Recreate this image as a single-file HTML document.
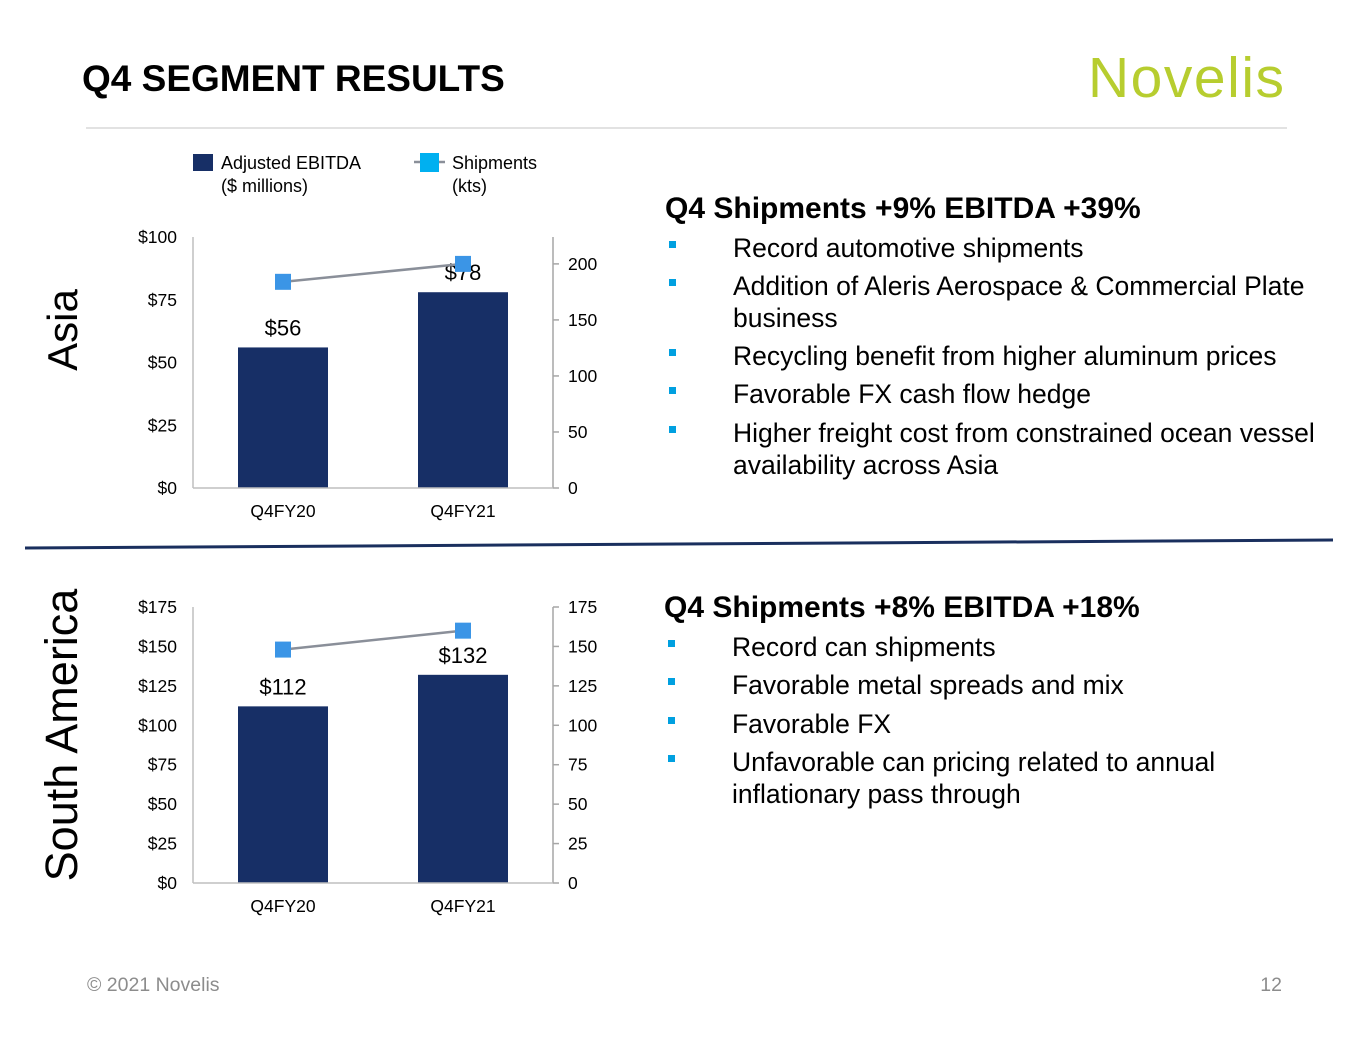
<!DOCTYPE html>
<html><head><meta charset="utf-8"><style>
body{margin:0;background:#fff;}
svg text{font-family:"Liberation Sans",Arial,sans-serif;}
</style></head><body>
<svg id="s" width="1365" height="1055" viewBox="0 0 1365 1055" xmlns="http://www.w3.org/2000/svg">
<text x="82" y="91" font-size="37" font-weight="bold" fill="#000">Q4 SEGMENT RESULTS</text>
<text x="1284" y="97" font-size="57" fill="#b7cd2f" text-anchor="end" textLength="196">Novelis</text>
<line x1="86" y1="128" x2="1287" y2="128" stroke="#d9d9d9" stroke-width="1.5"/>
<line x1="25" y1="548" x2="1333" y2="540" stroke="#1a2f5e" stroke-width="3"/>
<text transform="translate(77,330) rotate(-90)" font-size="42" text-anchor="middle">Asia</text>
<text transform="translate(77,735) rotate(-90)" font-size="45" text-anchor="middle">South America</text>
<g>
<rect x="193" y="154" width="20" height="17" fill="#172f66"/>
<text x="221" y="169" font-size="18">Adjusted EBITDA</text>
<text x="221" y="192" font-size="18">($ millions)</text>
<line x1="414" y1="162" x2="445" y2="162" stroke="#8a8f99" stroke-width="2.5"/>
<rect x="420" y="153" width="19" height="19" fill="#00b0f0"/>
<text x="452" y="169" font-size="18">Shipments</text>
<text x="452" y="192" font-size="18">(kts)</text>
</g>
<g id="c1"></g>
<g id="c2"></g>
<g font-size="26.5">
<text x="665" y="218" font-size="30" font-weight="bold">Q4 Shipments +9% EBITDA +39%</text>
<rect x="669" y="241" width="7" height="7" fill="#00a0e0"/><text x="733" y="257">Record automotive shipments</text>
<rect x="669" y="279" width="7" height="7" fill="#00a0e0"/><text x="733" y="295">Addition of Aleris Aerospace &amp; Commercial Plate</text>
<text x="733" y="327">business</text>
<rect x="669" y="349" width="7" height="7" fill="#00a0e0"/><text x="733" y="365">Recycling benefit from higher aluminum prices</text>
<rect x="669" y="387" width="7" height="7" fill="#00a0e0"/><text x="733" y="403">Favorable FX cash flow hedge</text>
<rect x="669" y="426" width="7" height="7" fill="#00a0e0"/><text x="733" y="442">Higher freight cost from constrained ocean vessel</text>
<text x="733" y="474">availability across Asia</text>
</g>
<g font-size="26.5">
<text x="664" y="617" font-size="30" font-weight="bold">Q4 Shipments +8% EBITDA +18%</text>
<rect x="668" y="640" width="7" height="7" fill="#00a0e0"/><text x="732" y="656">Record can shipments</text>
<rect x="668" y="678" width="7" height="7" fill="#00a0e0"/><text x="732" y="694">Favorable metal spreads and mix</text>
<rect x="668" y="717" width="7" height="7" fill="#00a0e0"/><text x="732" y="733">Favorable FX</text>
<rect x="668" y="755" width="7" height="7" fill="#00a0e0"/><text x="732" y="771">Unfavorable can pricing related to annual</text>
<text x="732" y="803">inflationary pass through</text>
</g>
<text x="87" y="991" font-size="19.5" fill="#8c8c8c">© 2021 Novelis</text>
<text x="1282" y="991" font-size="19.5" fill="#8c8c8c" text-anchor="end">12</text>
</svg>
<script>
const categories = ["Q4FY20", "Q4FY21"];
const asiaEbitda = [56, 78];
const asiaShipments = [184, 200];
const asiaLeftTicks = [0, 25, 50, 75, 100];
const asiaRightTicks = [0, 50, 100, 150, 200];
const saEbitda = [112, 132];
const saShipments = [148, 160];
const saLeftTicks = [0, 25, 50, 75, 100, 125, 150, 175];
const saRightTicks = [0, 25, 50, 75, 100, 125, 150, 175];
const NS = "http://www.w3.org/2000/svg";
function mk(p, tag, at, txt){const e=document.createElementNS(NS,tag);for(const k in at)e.setAttribute(k,at[k]);if(txt!==undefined)e.textContent=txt;p.appendChild(e);return e;}
function draw(g, cfg){
  const L=193,R=553,B=cfg.bottom,T=cfg.top;
  const yl=v=>B-(v/cfg.lmax)*(B-T);
  const yr=v=>B-(v/cfg.rmax)*(B-T);
  const bw=(R-L)/categories.length;
  const xc=i=>L+bw*(i+0.5);
  mk(g,'line',{x1:L,y1:T,x2:L,y2:B,stroke:'#bfbfbf','stroke-width':1.5});
  mk(g,'line',{x1:R,y1:T,x2:R,y2:B,stroke:'#a6a6a6','stroke-width':1.5});
  cfg.lt.forEach(v=>{const t=mk(g,'text',{x:L-16,y:yl(v)+6,'font-size':17.5,'text-anchor':'end'},'$'+v);
    
    });
  cfg.rt.forEach(v=>{mk(g,'line',{x1:R,y1:yr(v),x2:R+6,y2:yr(v),stroke:'#a6a6a6','stroke-width':1.5});
    const t=mk(g,'text',{x:R+15,y:yr(v)+6,'font-size':17.5},String(v));
    
    });
  cfg.bars.forEach((v,i)=>{const x=xc(i)-45;
    const r=mk(g,'rect',{x:x,y:yl(v),width:90,height:B-yl(v),fill:'#172f66'});
    
    
    const t=mk(g,'text',{x:xc(i),y:yl(v)-12,'font-size':22,'text-anchor':'middle'},'$'+v);
    
    
    const c=mk(g,'text',{x:xc(i),y:B+29,'font-size':17.5,'text-anchor':'middle'},categories[i]);
    
    });
  mk(g,'line',{x1:L,y1:B,x2:R,y2:B,stroke:'#bfbfbf','stroke-width':1.5});
  const pts=cfg.line.map((v,i)=>[xc(i),yr(v)]);
  const pl=mk(g,'polyline',{points:pts.map(p=>p.join(',')).join(' '),fill:'none',stroke:'#8a8f99','stroke-width':2.5});
  
  
  pts.forEach(p=>{const m=mk(g,'rect',{x:p[0]-8,y:p[1]-8,width:16,height:16,fill:'#3b95e6'});
    
    });
}
draw(document.getElementById('c1'),{top:237,bottom:488,lmax:100,rmax:224,lt:asiaLeftTicks,rt:asiaRightTicks,bars:asiaEbitda,line:asiaShipments});
draw(document.getElementById('c2'),{top:607,bottom:883,lmax:175,rmax:175,lt:saLeftTicks,rt:saRightTicks,bars:saEbitda,line:saShipments});
</script>
</body></html>
